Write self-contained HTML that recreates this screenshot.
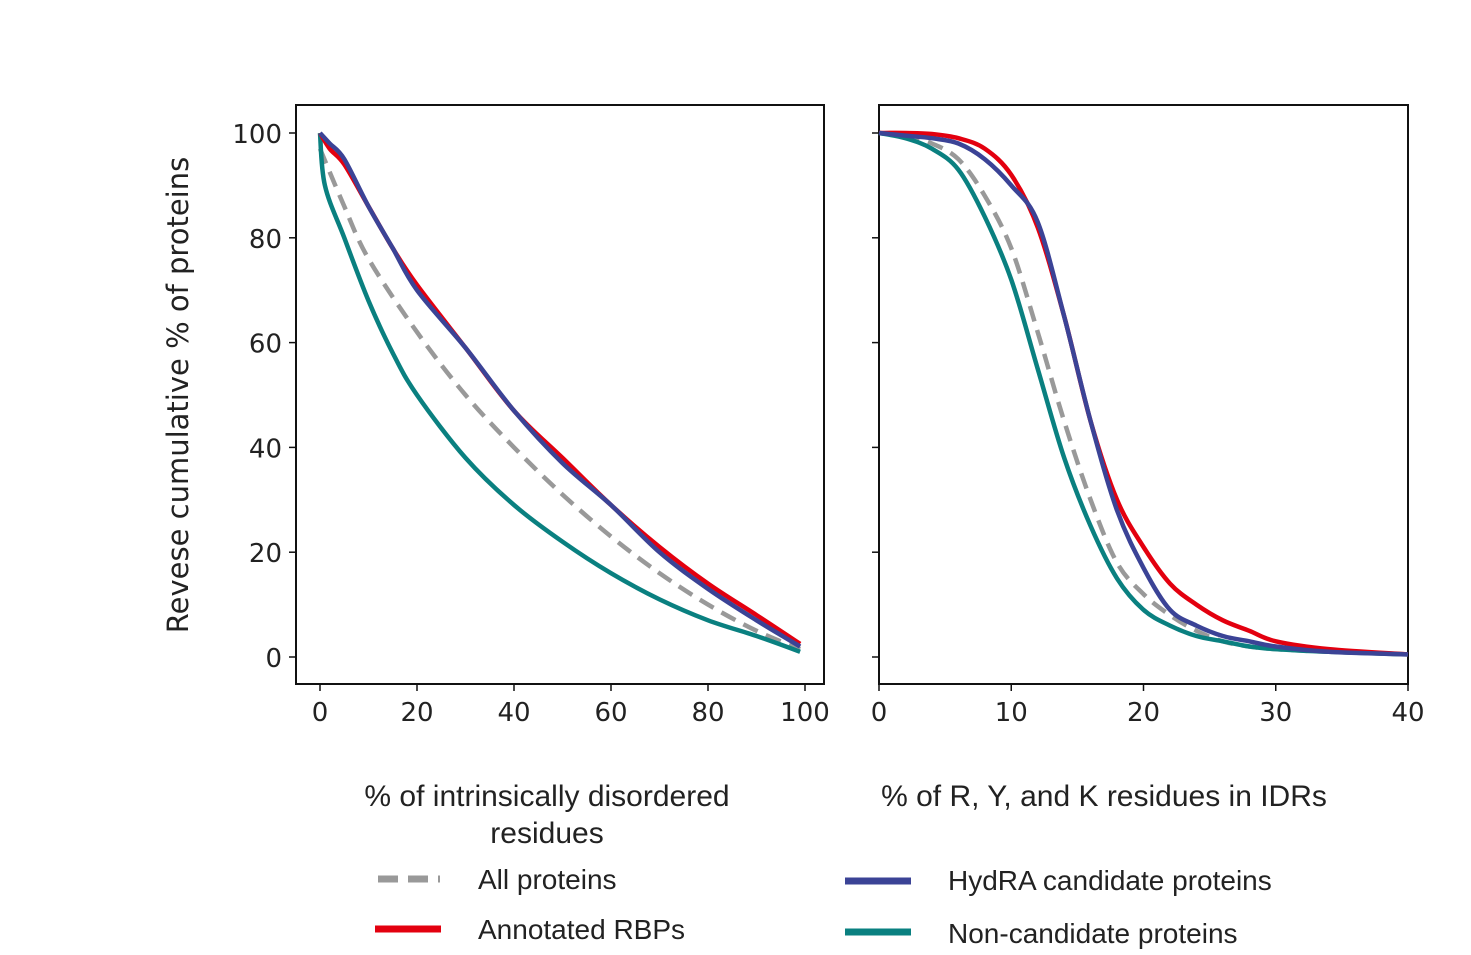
<!DOCTYPE html>
<html><head><meta charset="utf-8"><style>
body{margin:0;background:#fff;}
svg text{font-family:"DejaVu Sans",sans-serif;}
.lab{font-family:"Liberation Sans",sans-serif;font-size:30px;fill:#222;}
.tick{font-size:26px;fill:#222;}
</style></head><body>
<svg id="chart" width="1471" height="950" xmlns="http://www.w3.org/2000/svg">
<g id="left"></g>
<g id="right"></g>
<text class="lab" transform="translate(188,395) rotate(-90)" text-anchor="middle" style="font-family:'DejaVu Sans',sans-serif;font-size:29px">Revese cumulative % of proteins</text>
<text class="lab" x="547" y="806" text-anchor="middle">% of intrinsically disordered</text>
<text class="lab" x="547" y="843" text-anchor="middle">residues</text>
<text class="lab" x="1104" y="806" text-anchor="middle">% of R, Y, and K residues in IDRs</text>
<g>
<line x1="378" y1="879" x2="440" y2="879" stroke="#999" stroke-width="7" stroke-dasharray="20,10"/>
<text class="lab" x="478" y="889" style="font-size:28px">All proteins</text>
<line x1="375" y1="929" x2="441" y2="929" stroke="#e3000f" stroke-width="7"/>
<text class="lab" x="478" y="939" style="font-size:28px">Annotated RBPs</text>
<line x1="845" y1="881" x2="911" y2="881" stroke="#3b4396" stroke-width="7"/>
<text class="lab" x="948" y="890" style="font-size:28px">HydRA candidate proteins</text>
<line x1="845" y1="932" x2="911" y2="932" stroke="#0a8080" stroke-width="7"/>
<text class="lab" x="948" y="943" style="font-size:28px">Non-candidate proteins</text>
</g>
</svg>
<script>
const leftX=[0,2,5,10,15,20,30,40,50,60,70,80,90,99];
const leftRBP=[100,97,94,86,78,71,59,47,38,29,21,14,8,2.5];
const leftHydra=[100,98,95,86,78,70,59,47,37,29,20,13,7,2];
const leftTealX=[0,1,5,10,15,20,30,40,50,60,70,80,90,99];
const leftTeal=[100,90,80,68,58,50,38,29,22,16,11,7,4,1];
const leftGrayX=[0,5,10,20,30,40,50,60,70,80,90,99];
const leftGray=[97,86,76,62,50,40,31,23,16,10,5,1.5];
const rightX=[0,2,4,6,8,10,12,14,16,18,20,22,24,26,28,30,34,40];
const rightRBP=[100,100,99.8,99,97,92,82,65,45,30,21,14,10,7,5,3,1.5,0.5];
const rightHydra=[100,99.5,99,98,95,90,83,65,45,28,17,9,6,4,3,2,1,0.5];
const rightGray=[100,99.5,98,95,88,78,62,45,30,18,12,8,5,3,2,1.5,1,0.5];
const rightTeal=[100,99,97,93,84,72,55,38,25,15,9,6,4,3,2,1.5,1,0.5];
const leftTicks=[0,20,40,60,80,100];
const rightTicks=[0,10,20,30,40];
const yTicks=[0,20,40,60,80,100];
const NS="http://www.w3.org/2000/svg";
const y=v=>657-v*5.24;
function mk(t,a,p){const e=document.createElementNS(NS,t);for(const k in a)e.setAttribute(k,a[k]);p.appendChild(e);return e;}
function smooth(pts){let d='M'+pts[0][0].toFixed(1)+','+pts[0][1].toFixed(1);
 for(let i=0;i<pts.length-1;i++){const p0=pts[i-1]||pts[i],p1=pts[i],p2=pts[i+1],p3=pts[i+2]||p2;
  const c1=[p1[0]+(p2[0]-p0[0])/6,p1[1]+(p2[1]-p0[1])/6],c2=[p2[0]-(p3[0]-p1[0])/6,p2[1]-(p3[1]-p1[1])/6];
  d+='C'+c1.map(v=>v.toFixed(1))+' '+c2.map(v=>v.toFixed(1))+' '+p2.map(v=>v.toFixed(1));}
 return d;}
function panel(g,x0,x1,xmin,xmax,ticks,showY,series){
 const sx=v=>(v-xmin)/(xmax-xmin)*(x1-x0)+x0;
 const bx=g.id=='left'?296:879;
 const fr=mk('rect',{x:bx,y:105,width:g.id=='left'?528:529,height:579,fill:'none',stroke:'#111','stroke-width':2},g);
 
 
 yTicks.forEach(t=>{const l=mk('line',{x1:bx-7,x2:bx,y1:y(t),y2:y(t),stroke:'#111','stroke-width':1.5},g);
  
  
  if(showY){const tx=mk('text',{x:bx-14,y:y(t)+10,'text-anchor':'end',class:'tick'},g);tx.textContent=t;
  
  }});
 ticks.forEach(t=>{const l=mk('line',{x1:sx(t),x2:sx(t),y1:684,y2:691,stroke:'#111','stroke-width':1.5},g);
  
  
  const tx=mk('text',{x:sx(t),y:721,'text-anchor':'middle',class:'tick'},g);tx.textContent=t;
  
  });
 series.forEach(s=>{const d=smooth(s.xs.map((v,i)=>[sx(v),y(s.ys[i])]));
  const p=mk('path',{d:d,fill:'none',stroke:s.c,'stroke-width':4.5,'stroke-linejoin':'round','stroke-dasharray':s.dash||'none'},g);
  
  });
}
panel(document.getElementById('left'),320,805,0,100,leftTicks,true,[
 {xs:leftGrayX,ys:leftGray,c:'#999',dash:'16,9',n:'line-all-proteins'},
 {xs:leftTealX,ys:leftTeal,c:'#0a8080',n:'line-non-candidate'},
 {xs:leftX,ys:leftRBP,c:'#e3000f',n:'line-annotated-rbps'},
 {xs:leftX,ys:leftHydra,c:'#3b4396',n:'line-hydra-candidates'}]);
panel(document.getElementById('right'),879,1408,0,40,rightTicks,false,[
 {xs:rightX,ys:rightGray,c:'#999',dash:'16,9',n:'line-all-proteins'},
 {xs:rightX,ys:rightTeal,c:'#0a8080',n:'line-non-candidate'},
 {xs:rightX,ys:rightRBP,c:'#e3000f',n:'line-annotated-rbps'},
 {xs:rightX,ys:rightHydra,c:'#3b4396',n:'line-hydra-candidates'}]);
</script>
</body></html>
